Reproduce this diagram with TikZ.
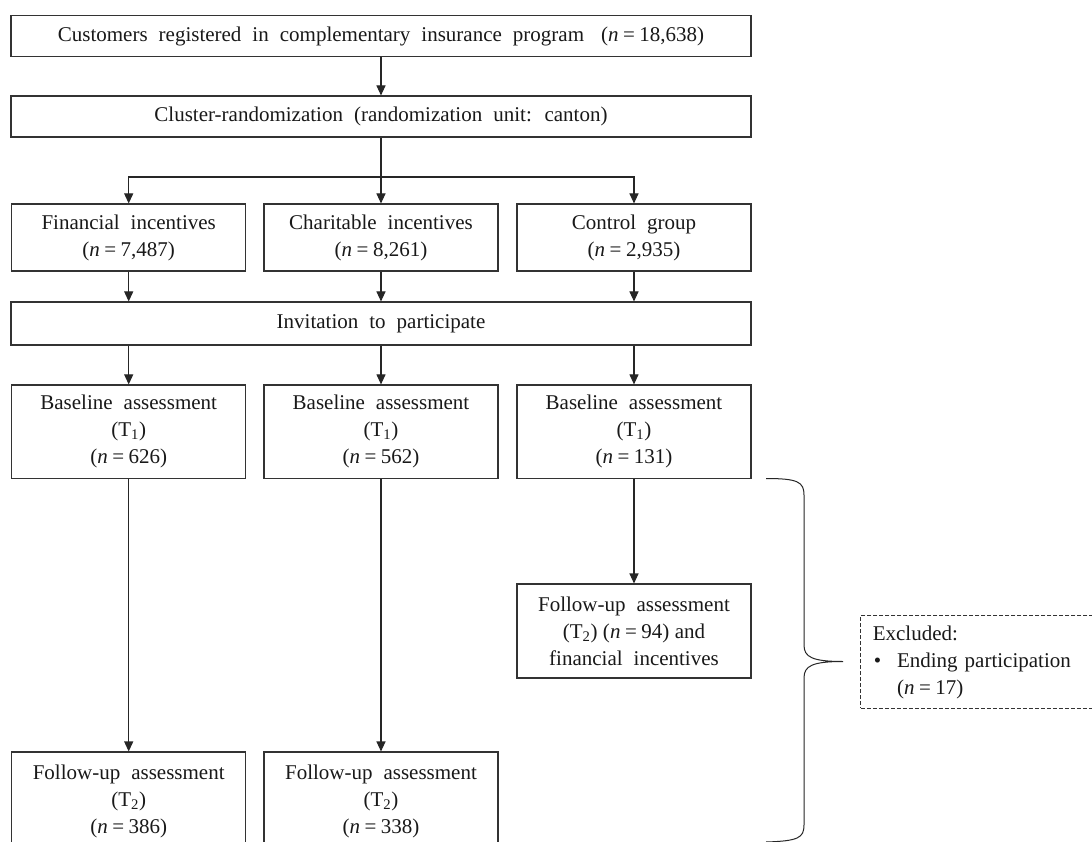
\documentclass[tikz,border=0pt]{standalone}
\usepackage{fontspec}
\setmainfont{Liberation Serif}
\usetikzlibrary{arrows.meta}
\newcommand{\nn}[1]{(\textit{n}\hspace{4.5pt}=\hspace{4.5pt}#1)}
\newcommand{\widesp}{\spaceskip=11pt plus 2pt\relax}
\newcommand{\normsp}{\spaceskip=5.5pt\relax}
\begin{document}
\begin{tikzpicture}[x=1pt,y=-1pt,
  every node/.style={font=\fontsize{21}{27}\selectfont\widesp, text=black!90},
  box/.style={draw=black!80, line width=1.1pt, align=center, inner sep=0pt, minimum width=234pt},
  widebox/.style={draw=black!80, line width=1.1pt, align=center, inner sep=0pt, minimum width=740pt, minimum height=41pt},
  arr/.style={draw=black!85, line width=1.1pt, -{Triangle[length=10pt,width=9pt]}},
  ln/.style={draw=black!85, line width=1.1pt},
  exbox/.style={draw=black!80, line width=0.9pt, dash pattern=on 4pt off 2pt, align=left, text width=220pt, inner xsep=12pt, inner ysep=0pt, minimum height=92.6pt, anchor=west}]
\clip (0,0) rectangle (1092,842);
\fill[white] (0,0) rectangle (1092,842);
% top boxes
\node[widebox] (top) at (381,36) {Customers registered in complementary insurance program \hspace{6pt}\nn{18,638}};
\node[widebox] (clus) at (381,116.5) {Cluster-randomization (randomization unit: canton)};
\coordinate (split) at (381,177);
% group boxes
\node[box, minimum height=67pt] (c1) at (128.7,237.5) {Financial incentives\\ \nn{7,487}};
\node[box, minimum height=67pt] (c2) at (381,237.5) {Charitable incentives\\ \nn{8,261}};
\node[box, minimum height=67pt] (c3) at (634,237.5) {Control group\\ \nn{2,935}};
\node[widebox, minimum height=43pt] (inv) at (381,323.5) {Invitation to participate};
% baseline
\node[box, minimum height=93.5pt] (b1) at (128.7,431.7) {Baseline assessment\\ (T\textsubscript{1})\\ \nn{626}};
\node[box, minimum height=93.5pt] (b2) at (381,431.7) {Baseline assessment\\ (T\textsubscript{1})\\ \nn{562}};
\node[box, minimum height=93.5pt] (b3) at (634,431.7) {Baseline assessment\\ (T\textsubscript{1})\\ \nn{131}};
% follow-up
\node[box, minimum height=94pt] (f3) at (634,631) {Follow-up assessment\\ {\normsp (T\textsubscript{2}) \nn{94} and}\\ financial incentives};
\node[box, minimum height=98pt] (f1) at (128.7,801) {Follow-up assessment\\ (T\textsubscript{2})\\ \nn{386}};
\node[box, minimum height=98pt] (f2) at (381,801) {Follow-up assessment\\ (T\textsubscript{2})\\ \nn{338}};
% excluded
\node[exbox] (ex) at (860.3,662) {Excluded:\\ \makebox[24.3pt][l]{\hspace{1pt}•}Ending participation\\ \hspace*{24.3pt}\nn{17}};
% connectors
\draw[arr] (top) -- (clus);
\draw[ln] (clus) -- (split);
\draw[arr] (split) -| (c1);
\draw[arr] (split) -- (c2);
\draw[arr] (split) -| (c3);
\draw[arr] (c1.south) -- (c1.south |- inv.north);
\draw[arr] (c2.south) -- (c2.south |- inv.north);
\draw[arr] (c3.south) -- (c3.south |- inv.north);
\draw[arr] (c1.south |- inv.south) -- (b1);
\draw[arr] (c2.south |- inv.south) -- (b2);
\draw[arr] (c3.south |- inv.south) -- (b3);
\draw[arr] (b1) -- (f1);
\draw[arr] (b2) -- (f2);
\draw[arr] (b3) -- (f3);
% brace
\coordinate (bt) at (766,478.5);
\coordinate (bb) at (766,842);
\coordinate (tip) at (843,661.5);
\draw[ln, line width=1pt] (bt) .. controls (798,478.5) and (804,482) .. (804,495) -- (804,645) .. controls (804,657) and (812,661.5) .. (tip) .. controls (812,661.5) and (804,666) .. (804,678) -- (804,825) .. controls (804,838) and (798,841) .. (bb);
\end{tikzpicture}
\end{document}
